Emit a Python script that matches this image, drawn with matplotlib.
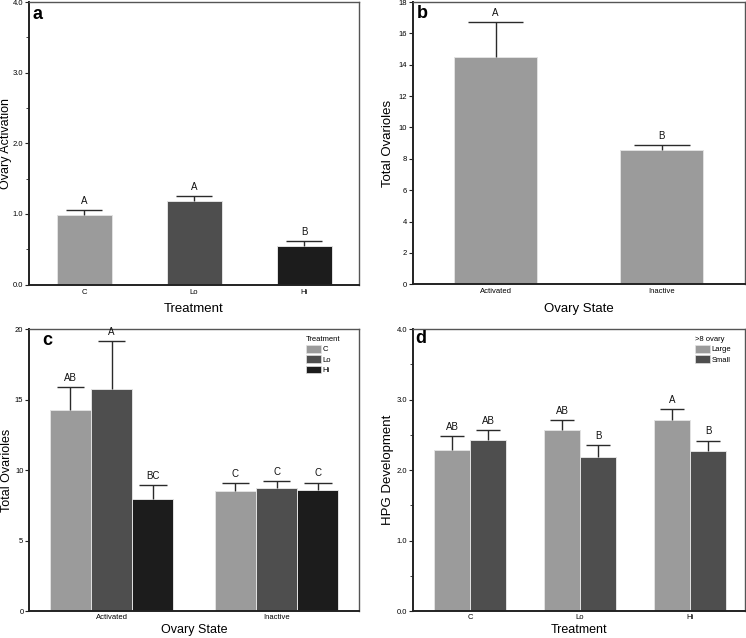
import matplotlib
matplotlib.use("Agg")
import matplotlib.pyplot as plt
import numpy as np
from matplotlib.patches import Patch
from matplotlib.ticker import MultipleLocator, FormatStrFormatter

plt.rcParams['font.family'] = ['Liberation Sans', 'DejaVu Sans']

# panel a: ovary activation by treatment
treat = ['C', 'Lo', 'Hi']
act_mean = [0.99, 1.18, 0.55]
act_err = [0.06, 0.07, 0.07]
act_sig = ['A', 'A', 'B']

# panel b: total ovarioles by ovary state
state = ['Activated', 'Inactive']
ovl_mean = [14.5, 8.57]
ovl_err = [2.2, 0.33]
ovl_sig = ['A', 'B']

# panel c: total ovarioles by state x treatment
c_mean = {'C': [14.26, 8.5], 'Lo': [15.72, 8.75], 'Hi': [7.97, 8.57]}
c_err = {'C': [1.65, 0.6], 'Lo': [3.4, 0.5], 'Hi': [1.0, 0.55]}
c_sig = {'C': ['AB', 'C'], 'Lo': ['A', 'C'], 'Hi': ['BC', 'C']}

# panel d: HPG development by treatment x ovary size
ovary = ['Large', 'Small']
d_mean = {'Large': [2.29, 2.57, 2.71], 'Small': [2.43, 2.19, 2.27]}
d_err = {'Large': [0.19, 0.14, 0.15], 'Small': [0.14, 0.16, 0.15]}
d_sig = {'Large': ['AB', 'AB', 'A'], 'Small': ['AB', 'B', 'B']}

col = {'C': '#9b9b9b', 'Lo': '#4e4e4e', 'Hi': '#1c1c1c',
       'Large': '#9b9b9b', 'Small': '#4e4e4e'}
ECOL = '#2a2a2a'
W, H = 746, 638


def bars(ax, x, means, errs, sigs, width, color):
    x = np.asarray(x, dtype=float)
    means = np.asarray(means)
    tops = means + np.asarray(errs)
    ax.bar(x, means, width, color=color, edgecolor='#e2e2e2', linewidth=0.7, zorder=2)
    half = width / 3.0
    ax.vlines(x, means, tops, color=ECOL, lw=1.0, zorder=3)
    ax.hlines(tops, x - half, x + half, color=ECOL, lw=1.0, zorder=3)
    for xi, t, s in zip(x, tops, sigs):
        ax.annotate(s, (xi, t), xytext=(0, 3), textcoords='offset points',
                    ha='center', va='bottom', fontsize=7, color='#111111')


def style(ax, letter, lx, ly, ylx, xly):
    for s in ['left', 'bottom']:
        ax.spines[s].set_color('#222222')
        ax.spines[s].set_linewidth(1.4)
    for s in ['top', 'right']:
        ax.spines[s].set_color('#555555')
        ax.spines[s].set_linewidth(1.0)
    ax.tick_params(axis='y', which='major', length=3, width=0.8, labelsize=5.5,
                   pad=1, color='#222222')
    ax.tick_params(axis='y', which='minor', length=2, width=0.6, color='#222222')
    ax.text(lx, ly, letter, transform=ax.transAxes, fontsize=13,
            fontweight='bold', ha='left', va='top')
    ax.yaxis.set_label_coords(ylx, 0.5)
    ax.xaxis.set_label_coords(0.5, xly)


def place(fig, l, r, t, b):
    return fig.add_axes([l / W, 1 - b / H, (r - l) / W, (b - t) / H])


fig = plt.figure(figsize=(W / 100, H / 100), dpi=100)

# a
ax = place(fig, 29, 359, 2, 284.5)
bars(ax, range(3), act_mean, act_err, act_sig, 0.5, [col[t] for t in treat])
ax.set_xlim(-0.5, 2.5)
ax.set_ylim(0, 4)
ax.yaxis.set_major_locator(MultipleLocator(1))
ax.yaxis.set_minor_locator(MultipleLocator(0.5))
ax.yaxis.set_major_formatter(FormatStrFormatter('%.1f'))
ax.set_xticks(range(3), treat)
ax.tick_params(axis='x', length=0, labelsize=5.5, pad=3)
ax.set_xlabel('Treatment', fontsize=9.5)
ax.set_ylabel('Ovary Activation', fontsize=9)
style(ax, 'a', 0.012, 0.985, -0.05, -0.064)

# b
ax = place(fig, 412.5, 745, 2, 284.3)
bars(ax, range(2), ovl_mean, ovl_err, ovl_sig, 0.5, col['C'])
ax.set_xlim(-0.5, 1.5)
ax.set_ylim(0, 18)
ax.yaxis.set_major_locator(MultipleLocator(2))
ax.set_xticks(range(2), state)
ax.tick_params(axis='x', length=0, labelsize=5.5, pad=3)
ax.set_xlabel('Ovary State', fontsize=9.5)
ax.set_ylabel('Total Ovarioles', fontsize=9.5)
style(ax, 'b', 0.012, 0.99, -0.056, -0.066)

# c
ax = place(fig, 29, 359, 329, 611.3)
bw = 0.25
for i, t in enumerate(treat):
    xs = np.arange(2) + (i - 1) * bw
    bars(ax, xs, c_mean[t], c_err[t], c_sig[t], bw, col[t])
ax.set_xlim(-0.5, 1.5)
ax.set_ylim(0, 20)
ax.yaxis.set_major_locator(MultipleLocator(5))
ax.set_xticks(range(2), state)
ax.tick_params(axis='x', length=0, labelsize=5.5, pad=2)
ax.set_xlabel('Ovary State', fontsize=9)
ax.set_ylabel('Total Ovarioles', fontsize=9)
style(ax, 'c', 0.04, 0.99, -0.048, -0.045)
hd = [Patch(facecolor=col[t], edgecolor='#e2e2e2', linewidth=0.5) for t in treat]
ax.legend(hd, treat, title='Treatment', loc='upper right',
          bbox_to_anchor=(0.965, 1.0), frameon=False, fontsize=5.5,
          title_fontsize=5.5, handlelength=2.0, handleheight=1.2,
          handletextpad=0.2, labelspacing=0.25, alignment='left')

# d
ax = place(fig, 413, 745, 329, 611.3)
bw = 0.33
for i, o in enumerate(ovary):
    xs = np.arange(3) + (i - 0.5) * bw
    bars(ax, xs, d_mean[o], d_err[o], d_sig[o], bw, col[o])
ax.set_xlim(-0.52, 2.5)
ax.set_ylim(0, 4)
ax.yaxis.set_major_locator(MultipleLocator(1))
ax.yaxis.set_minor_locator(MultipleLocator(0.5))
ax.yaxis.set_major_formatter(FormatStrFormatter('%.1f'))
ax.set_xticks(range(3), treat)
ax.tick_params(axis='x', length=0, labelsize=5.5, pad=2)
ax.set_xlabel('Treatment', fontsize=9)
ax.set_ylabel('HPG Development', fontsize=9.5)
style(ax, 'd', 0.008, 0.995, -0.057, -0.045)
hd = [Patch(facecolor=col[o], edgecolor='#e2e2e2', linewidth=0.5) for o in ovary]
ax.legend(hd, ovary, title='>8 ovary', loc='upper right',
          bbox_to_anchor=(0.98, 1.0), frameon=False, fontsize=5.5,
          title_fontsize=5.5, handlelength=2.0, handleheight=1.2,
          handletextpad=0.2, labelspacing=0.25, alignment='left')

fig.savefig('out.png', dpi=100)
